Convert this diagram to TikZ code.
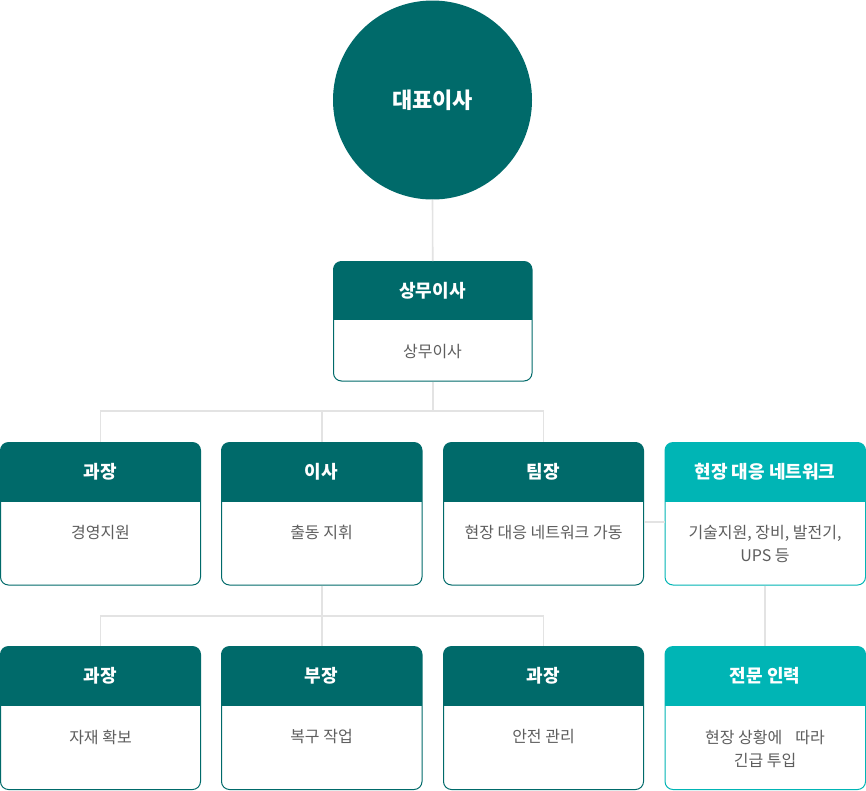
\documentclass[tikz,border=0pt]{standalone}
\usepackage{fontspec}
\setmainfont{Noto Sans CJK KR}
\definecolor{dteal}{HTML}{006A6A}
\definecolor{bteal}{HTML}{00B5B5}
\definecolor{conncol}{HTML}{E3E3E3}
\definecolor{bodytxt}{HTML}{5E5E5E}
\tikzset{
  conn/.style={draw=conncol, line width=1.6pt},
  frame/.style={rectangle, rounded corners=8pt, line width=1pt, inner sep=0pt, fill=none},
  headtxt/.style={text=white, font=\fontsize{18}{21}\selectfont\bfseries, inner sep=0pt},
  bodytext/.style={text=bodytxt, font=\fontsize{16}{23}\selectfont, align=center, inner sep=0pt},
}
% #1 name, #2 x0, #3 y0, #4 x1, #5 y1, #6 header bottom, #7 colour
\newcommand{\orgframe}[7]{%
  \begin{scope}
    \clip[rounded corners=8pt] (#2,#3) rectangle (#4,#5);
    \fill[#7] (#2,#3) rectangle (#4,#6);
  \end{scope}
  \node[frame, draw=#7, minimum width={#4-#2}, minimum height={#5-#3}] (#1) at ({(#2+#4)/2},{(#3+#5)/2}) {};
}
\begin{document}
\begin{tikzpicture}[x=1pt,y=-1pt]
\useasboundingbox (0,0) rectangle (866,790);
\fill[white] (0,0) rectangle (866,790);

% top circle
\node[circle, fill=dteal, minimum size=199pt, inner sep=0pt] (ceo) at (432.5,100) {};
\node[text=white, font=\fontsize{22}{26}\selectfont\bfseries] (ceot) at (432.5,100) {대표이사};

% boxes
\orgframe{b0}{333.5}{261.5}{532}{381}{320}{dteal}
\orgframe{r1a}{0.5}{442.5}{200.5}{585}{502}{dteal}
\orgframe{r1b}{221.5}{442.5}{422}{585}{502}{dteal}
\orgframe{r1c}{443.5}{442.5}{643.5}{585}{502}{dteal}
\orgframe{r1d}{665}{442.5}{865.5}{585}{502}{bteal}
\orgframe{r2a}{0.5}{646.5}{200.5}{789.5}{706}{dteal}
\orgframe{r2b}{221.5}{646.5}{422}{789.5}{706}{dteal}
\orgframe{r2c}{443.5}{646.5}{643.5}{789.5}{706}{dteal}
\orgframe{r2d}{665}{646.5}{865.5}{789.5}{706}{bteal}

% junctions
\coordinate (j1) at (432.75,411);
\coordinate (j2) at (321.75,616);

% connector lines
\draw[conn] (ceo.south) -- (b0.north);
\draw[conn] (b0.south) -- (j1);
\draw[conn] (r1a.north) |- (j1) -| (r1c.north);
\draw[conn] (r1b.north) -- (r1b.north |- j1);
\draw[conn] (r1b.south) -- (j2);
\draw[conn] (r2a.north) |- (j2) -| (r2c.north);
\draw[conn] (r2b.north) -- (j2);
\draw[conn] ([yshift=-8.5pt]r1c.east) -- ([yshift=-8.5pt]r1d.west);
\draw[conn] (r1d.south) -- (r2d.north);

% titles
\node[headtxt] (b0h) at (432.5,290.5) {상무이사};
\node[headtxt] (r1ah) at (100.5,472) {과장};
\node[headtxt] (r1bh) at (321.5,472) {이사};
\node[headtxt] (r1ch) at (543.5,472) {팀장};
\node[headtxt] (r1dh) at (765,472) {현장 대응 네트워크};
\node[headtxt] (r2ah) at (100.5,676) {과장};
\node[headtxt] (r2bh) at (321.5,676) {부장};
\node[headtxt] (r2ch) at (543.5,676) {과장};
\node[headtxt] (r2dh) at (765,676) {전문 인력};

% bodies
\node[bodytext] (b0b) at (432.5,352) {상무이사};
\node[bodytext] (r1ab) at (100.5,532) {경영지원};
\node[bodytext] (r1bb) at (321.5,532) {출동 지휘};
\node[bodytext] (r1cb) at (543.5,532) {현장 대응 네트워크 가동};
\node[bodytext] (r1db) at (765,543.5) {기술지원, 장비, 발전기,\\UPS 등};
\node[bodytext] (r2ab) at (100.5,737) {자재 확보};
\node[bodytext] (r2bb) at (321.5,737) {복구 작업};
\node[bodytext] (r2cb) at (543.5,737) {안전 관리};
\node[bodytext] (r2db) at (765,748.5) {현장 상황에\hspace{13pt}따라\\긴급 투입};
\end{tikzpicture}
\end{document}
